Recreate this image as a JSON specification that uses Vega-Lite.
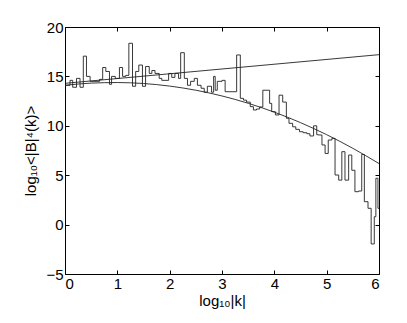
{
  "$schema": "https://vega.github.io/schema/vega-lite/v6.json",
  "autosize": "none",
  "width": 314,
  "height": 247,
  "padding": {"left": 65, "top": 27, "right": 28, "bottom": 49},
  "config": {
    "font": "Liberation Sans",
    "view": {"stroke": "#000", "strokeWidth": 1},
    "axis": {"domain": false, "grid": false, "tickColor": "#000", "tickSize": -4, "labelFontSize": 15, "labelColor": "#000", "titleFontSize": 15, "titleFontWeight": "normal", "titleColor": "#000"}
  },
  "datasets": {
    "hist": [
      {"k": 0.0, "v": 14.1}, {"k": 0.096, "v": 14.6}, {"k": 0.147, "v": 13.9}, {"k": 0.22, "v": 14.8},
      {"k": 0.287, "v": 13.9}, {"k": 0.35, "v": 17.05}, {"k": 0.41, "v": 15.0}, {"k": 0.48, "v": 14.5},
      {"k": 0.66, "v": 14.7}, {"k": 0.72, "v": 15.9}, {"k": 0.78, "v": 15.5}, {"k": 0.85, "v": 14.2},
      {"k": 0.89, "v": 15.0}, {"k": 0.96, "v": 14.8}, {"k": 1.04, "v": 15.9}, {"k": 1.1, "v": 15.0},
      {"k": 1.16, "v": 15.1}, {"k": 1.22, "v": 18.35}, {"k": 1.29, "v": 14.0}, {"k": 1.35, "v": 15.5},
      {"k": 1.41, "v": 16.15}, {"k": 1.48, "v": 14.0}, {"k": 1.54, "v": 16.0}, {"k": 1.61, "v": 15.3},
      {"k": 1.66, "v": 15.6}, {"k": 1.72, "v": 15.3}, {"k": 1.8, "v": 14.8}, {"k": 1.85, "v": 14.6},
      {"k": 1.98, "v": 15.3}, {"k": 2.04, "v": 14.9}, {"k": 2.1, "v": 15.3}, {"k": 2.17, "v": 14.8},
      {"k": 2.21, "v": 17.4}, {"k": 2.28, "v": 14.8}, {"k": 2.34, "v": 14.1}, {"k": 2.4, "v": 14.5},
      {"k": 2.47, "v": 14.8}, {"k": 2.53, "v": 14.1}, {"k": 2.6, "v": 13.8}, {"k": 2.66, "v": 13.4},
      {"k": 2.72, "v": 14.0}, {"k": 2.8, "v": 13.4}, {"k": 2.84, "v": 15.0}, {"k": 2.87, "v": 13.6},
      {"k": 2.91, "v": 14.5}, {"k": 3.0, "v": 14.6}, {"k": 3.06, "v": 13.45}, {"k": 3.28, "v": 17.17},
      {"k": 3.35, "v": 12.78}, {"k": 3.41, "v": 12.6}, {"k": 3.47, "v": 12.4}, {"k": 3.54, "v": 11.94},
      {"k": 3.6, "v": 11.6}, {"k": 3.66, "v": 11.7}, {"k": 3.72, "v": 11.9}, {"k": 3.78, "v": 13.6},
      {"k": 3.91, "v": 12.27}, {"k": 3.95, "v": 11.43}, {"k": 4.02, "v": 11.1}, {"k": 4.09, "v": 13.1},
      {"k": 4.16, "v": 12.4}, {"k": 4.23, "v": 10.76}, {"k": 4.28, "v": 10.25}, {"k": 4.35, "v": 9.9},
      {"k": 4.41, "v": 9.64}, {"k": 4.48, "v": 9.4}, {"k": 4.55, "v": 9.3}, {"k": 4.62, "v": 9.2},
      {"k": 4.68, "v": 8.97}, {"k": 4.75, "v": 10.0}, {"k": 4.81, "v": 9.1}, {"k": 4.84, "v": 9.07},
      {"k": 4.91, "v": 8.06}, {"k": 4.97, "v": 7.2}, {"k": 5.03, "v": 8.56}, {"k": 5.1, "v": 8.73},
      {"k": 5.16, "v": 5.02}, {"k": 5.23, "v": 4.5}, {"k": 5.29, "v": 7.38}, {"k": 5.35, "v": 4.5},
      {"k": 5.42, "v": 7.04}, {"k": 5.48, "v": 5.5}, {"k": 5.54, "v": 3.33}, {"k": 5.61, "v": 3.4},
      {"k": 5.67, "v": 7.1}, {"k": 5.72, "v": 2.32}, {"k": 5.79, "v": 1.65}, {"k": 5.85, "v": -1.96},
      {"k": 5.91, "v": 0.8}, {"k": 5.94, "v": 4.69}, {"k": 5.98, "v": 1.65}, {"k": 6.0, "v": 1.65}
    ],
    "straight": [{"k": 0, "v": 14.3}, {"k": 6, "v": 17.2}],
    "curve": [
      {"k": 0, "v": 14.1}, {"k": 0.5, "v": 14.32}, {"k": 1.0, "v": 14.38}, {"k": 1.5, "v": 14.28},
      {"k": 2.0, "v": 14.02}, {"k": 2.5, "v": 13.6}, {"k": 3.0, "v": 13.02}, {"k": 3.5, "v": 12.28},
      {"k": 4.0, "v": 11.38}, {"k": 4.5, "v": 10.32}, {"k": 5.0, "v": 9.1}, {"k": 5.5, "v": 7.72},
      {"k": 6.0, "v": 6.18}
    ]
  },
  "layer": [
    {
      "data": {"name": "hist"},
      "mark": {"type": "line", "interpolate": "step-after", "color": "#222", "strokeWidth": 0.9},
      "encoding": {
        "x": {"field": "k", "type": "quantitative", "scale": {"domain": [0, 6], "nice": false},
              "axis": {"values": [0, 1, 2, 3, 4, 5, 6], "title": "log₁₀|k|", "labelPadding": 6, "titlePadding": 2}},
        "y": {"field": "v", "type": "quantitative", "scale": {"domain": [-5, 20], "nice": false, "zero": false},
              "axis": {"values": [-5, 0, 5, 10, 15, 20], "title": "log₁₀<|B|⁴(k)>", "labelPadding": 6, "titlePadding": 7}}
      }
    },
    {
      "data": {"name": "straight"},
      "mark": {"type": "line", "color": "#222", "strokeWidth": 0.9},
      "encoding": {
        "x": {"field": "k", "type": "quantitative", "axis": {"orient": "top", "values": [0, 1, 2, 3, 4, 5, 6], "labels": false, "title": null}},
        "y": {"field": "v", "type": "quantitative", "axis": {"orient": "right", "values": [-5, 0, 5, 10, 15, 20], "labels": false, "title": null}}
      }
    },
    {
      "data": {"name": "curve"},
      "mark": {"type": "line", "interpolate": "monotone", "color": "#222", "strokeWidth": 0.9},
      "encoding": {
        "x": {"field": "k", "type": "quantitative", "axis": null},
        "y": {"field": "v", "type": "quantitative", "axis": null}
      }
    }
  ],
  "resolve": {"axis": {"x": "independent", "y": "independent"}}
}
